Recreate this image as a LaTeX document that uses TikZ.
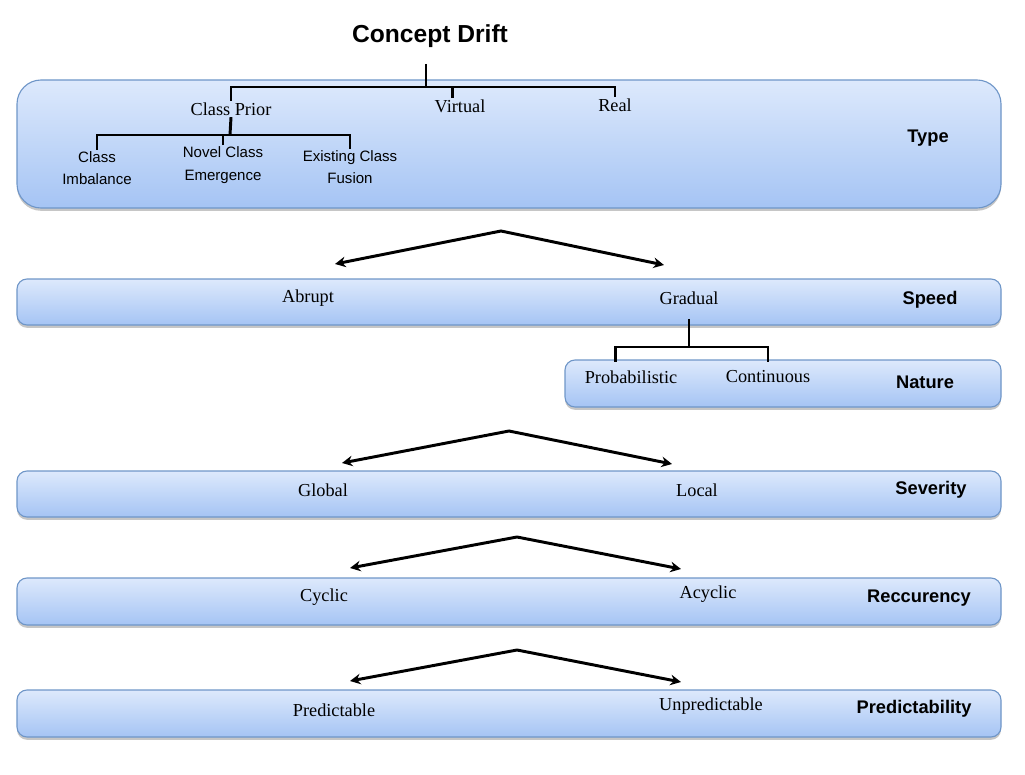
\documentclass[tikz,border=0pt]{standalone}
\usepackage{fontspec}
\setmainfont{Liberation Serif}
\setsansfont{Liberation Sans}
\usetikzlibrary{shadows,arrows.meta}
\definecolor{bandtop}{HTML}{DDE9FC}
\definecolor{bandbot}{HTML}{A5C4F4}
\definecolor{bandline}{HTML}{6F96C8}
\tikzset{
	band/.style={draw=bandline,line width=0.8pt,top color=bandtop,bottom color=bandbot,rounded corners=0.25cm,
		drop shadow={shadow xshift=0pt,shadow yshift=-2pt,opacity=0.45}},
	item/.style={font=\fontsize{13}{15}\selectfont,inner sep=1pt},
	sub/.style={font=\sffamily\fontsize{10.7}{16}\selectfont,align=center,inner sep=1pt},
	tag/.style={font=\sffamily\bfseries\fontsize{13}{15}\selectfont},
	branch/.style={line width=2.1pt},
}
\begin{document}
\begin{tikzpicture}[>={Stealth[length=7.5pt,width=7.5pt,inset=2.5pt]},x=0.025cm,y=-0.025cm]
	\useasboundingbox (0,0) rectangle (1025,775);
	% bands
	\draw[band,rounded corners=0.6cm] (17,80) rectangle (1001,208);
	\foreach \ya/\yb/\xa in {279/325/17,360/407/565,471/517/17,578/625/17,690/737/17}{
		\draw[band] (\xa,\ya) rectangle (1001,\yb);
	}
	% type
	\node[font=\sffamily\bfseries\fontsize{17.5}{20}\selectfont] (drift) at (430,36) {Concept Drift};
	\coordinate (stem) at (426,64);
	\coordinate (typejoin) at (426,87);
	\node[item] (prior) at (231,109) {Class Prior};
	\node[item] (virtual) at (460,106) {Virtual};
	\node[item] (real) at (615,105) {Real};
	\draw[branch] (stem)--(typejoin);
	\draw[branch] (prior.north)|-(typejoin)-|(real.north);
	\draw[branch] ([xshift=-5pt]virtual.north)--([xshift=-5pt]virtual.north|-typejoin);
	\node[sub] (imbal) at (97,168) {Class\\Imbalance};
	\node[sub] (novel) at (223,165) {Novel Class\\Emergence};
	\node[sub] (fusion) at (350,167) {Existing Class\\Fusion};
	\coordinate (priorjoin) at (230,135);
	\draw[branch] (prior.south)--(priorjoin);
	\draw[branch] (imbal.north)|-(priorjoin)-|(fusion.north);
	\draw[branch] (novel.north)--(novel.north|-priorjoin);
	\node[tag] (type) at (928,138) {Type};
	% speed and nature
	\node[item] (abrupt) at (308,298) {Abrupt};
	\node[item] (gradual) at (689,298) {Gradual};
	\node[tag] (speed) at (930,300) {Speed};
	\node[item] (prob) at (631,377) {Probabilistic};
	\node[item] (cont) at (768,377) {Continuous};
	\node[tag] (nature) at (925,382) {Nature};
	\coordinate (gradjoin) at (689,347);
	\draw[branch,shorten <=9pt] (gradual.south)--(gradjoin);
	\draw[branch] ([xshift=-11pt,yshift=5pt]prob.north)|-(gradjoin)-|([yshift=5pt]cont.north);
	% severity, reccurency, predictability
	\node[item] (global) at (323,490) {Global};
	\node[item] (local) at (697,490) {Local};
	\node[tag] (severity) at (931,490) {Severity};
	\node[item] (cyclic) at (324,597) {Cyclic};
	\node[item] (acyclic) at (708,594) {Acyclic};
	\node[tag] (recur) at (919,598) {Reccurency};
	\node[item] (pred) at (334,710) {Predictable};
	\node[item] (unpred) at (711,706) {Unpredictable};
	\node[tag] (predict) at (914,709) {Predictability};
	% forks
	\foreach \ax/\ay/\lx/\ly/\rx/\ry [count=\k] in {501/231/335/264/664/265,509/431/342/463/672/464,517/537/350/568/681/569,517/650/350/681/681/682}{
		\coordinate (fork\k) at (\ax,\ay);
		\coordinate (forkl\k) at (\lx,\ly);
		\coordinate (forkr\k) at (\rx,\ry);
		\draw[<->,branch] (forkl\k)--(fork\k)--(forkr\k);
	}
\end{tikzpicture}
\end{document}
